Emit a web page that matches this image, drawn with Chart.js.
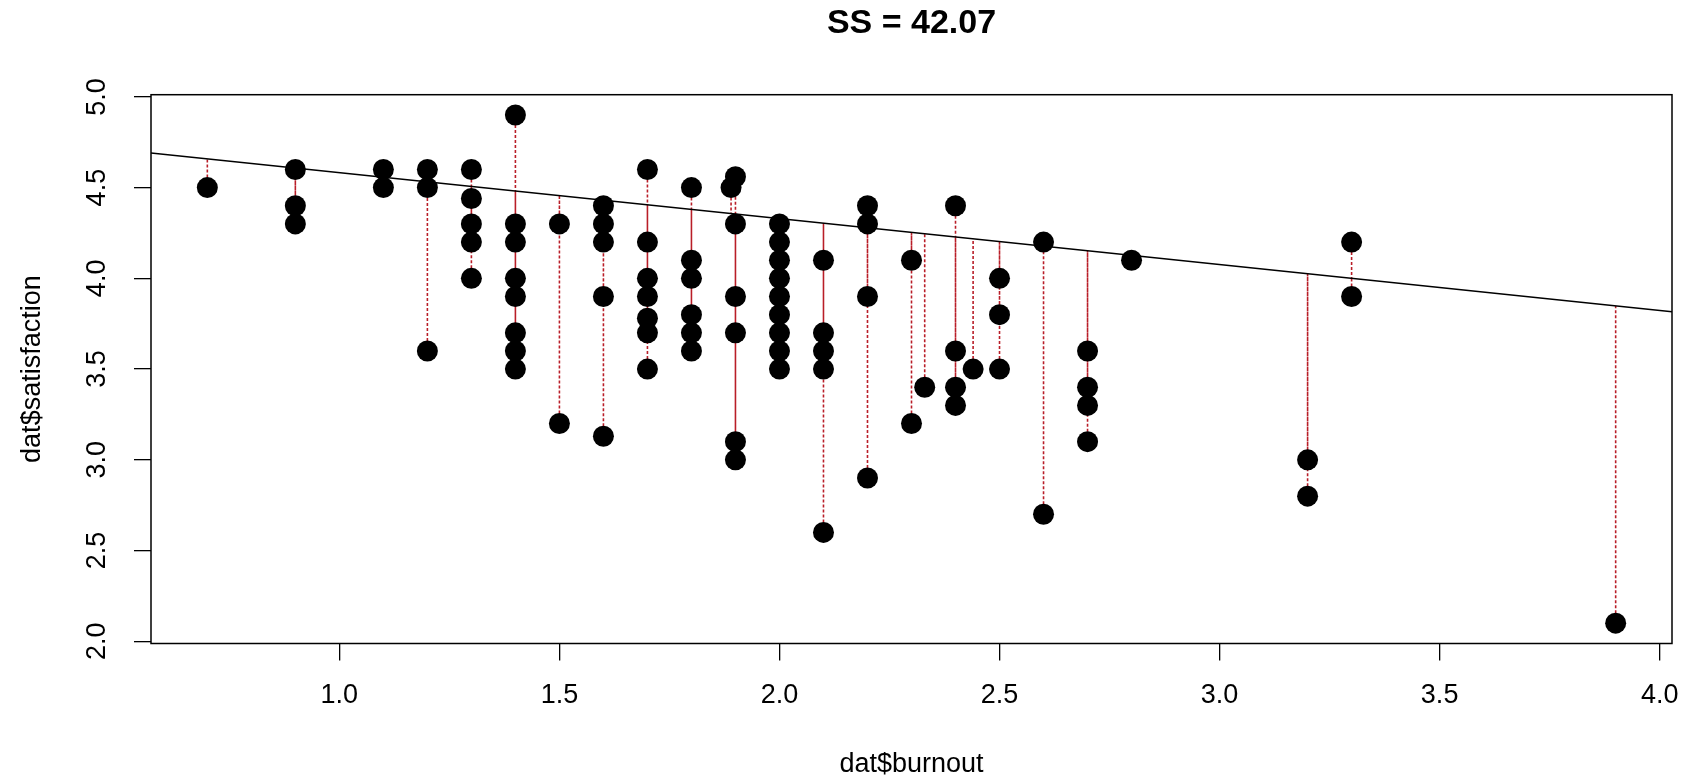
<!DOCTYPE html>
<html>
<head>
<meta charset="utf-8">
<title>SS = 42.07</title>
<script src="https://cdn.jsdelivr.net/npm/chart.js@4/dist/chart.umd.min.js"></script>
<style>
  body { margin: 0; background: #fff; }
</style>
</head>
<body>
<canvas id="canvas" width="1683" height="779"></canvas>
<script>
// 散布図データ (dat$burnout, dat$satisfaction)
var burnout = [
  0.7,
  0.9, 0.9, 0.9,
  1.1, 1.1,
  1.2, 1.2, 1.2,
  1.3, 1.3, 1.3, 1.3, 1.3,
  1.4, 1.4, 1.4, 1.4, 1.4, 1.4, 1.4, 1.4,
  1.5, 1.5,
  1.6, 1.6, 1.6, 1.6, 1.6,
  1.7, 1.7, 1.7, 1.7, 1.7, 1.7, 1.7,
  1.8, 1.8, 1.8, 1.8, 1.8, 1.8,
  1.89,
  1.9, 1.9, 1.9, 1.9, 1.9, 1.9,
  2.0, 2.0, 2.0, 2.0, 2.0, 2.0, 2.0, 2.0, 2.0,
  2.1, 2.1, 2.1, 2.1, 2.1,
  2.2, 2.2, 2.2, 2.2,
  2.3, 2.3,
  2.33,
  2.4, 2.4, 2.4, 2.4,
  2.44,
  2.5, 2.5, 2.5,
  2.6, 2.6,
  2.7, 2.7, 2.7, 2.7,
  2.8,
  3.2, 3.2,
  3.3, 3.3,
  3.9
];
var satisfaction = [
  4.5,
  4.6, 4.4, 4.3,
  4.6, 4.5,
  4.6, 4.5, 3.6,
  4.6, 4.44, 4.3, 4.2, 4.0,
  4.9, 4.3, 4.2, 4.0, 3.9, 3.7, 3.6, 3.5,
  4.3, 3.2,
  4.4, 4.3, 4.2, 3.9, 3.13,
  4.6, 4.2, 4.0, 3.9, 3.78, 3.7, 3.5,
  4.5, 4.1, 4.0, 3.8, 3.7, 3.6,
  4.5,
  4.56, 4.3, 3.9, 3.7, 3.1, 3.0,
  4.3, 4.2, 4.1, 4.0, 3.9, 3.8, 3.7, 3.6, 3.5,
  4.1, 3.7, 3.6, 3.5, 2.6,
  4.4, 4.3, 3.9, 2.9,
  4.1, 3.2,
  3.4,
  4.4, 3.6, 3.4, 3.3,
  3.5,
  4.0, 3.8, 3.5,
  4.2, 2.7,
  3.6, 3.4, 3.3, 3.1,
  4.1,
  3.0, 2.8,
  4.2, 3.9,
  2.1
];

// 図に描かれた直線（切片・傾き）
var lineIntercept = 4.835;
var lineSlope = -0.253;

// 目盛り
var xTicks = [1.0, 1.5, 2.0, 2.5, 3.0, 3.5, 4.0];
var yTicks = [2.0, 2.5, 3.0, 3.5, 4.0, 4.5, 5.0];

var titleText = 'SS = 42.07';
var xLabel = 'dat$burnout';
var yLabel = 'dat$satisfaction';

// R と同じく範囲の 4% を両側に足す
function rRange(arr) {
  var lo = Math.min.apply(null, arr), hi = Math.max.apply(null, arr);
  var d = (hi - lo) * 0.04;
  return [lo - d, hi + d];
}
var xr = rRange(burnout);
var yr = rRange(satisfaction);

var points = burnout.map(function(x, i) { return {x: x, y: satisfaction[i]}; });

// 残差（点から直線まで）
var residuals = [];
burnout.forEach(function(x, i) {
  residuals.push({x: x, y: satisfaction[i]});
  residuals.push({x: x, y: lineIntercept + lineSlope * x});
  residuals.push({x: x, y: null});
});

var fitLine = [
  {x: xr[0], y: lineIntercept + lineSlope * xr[0]},
  {x: xr[1], y: lineIntercept + lineSlope * xr[1]}
];

// 枠・タイトル・縦軸ラベル（R風）
var rBox = {
  id: 'rBox',
  afterDraw: function(chart) {
    var ctx = chart.ctx, a = chart.chartArea, ys = chart.scales.y;
    ctx.save();
    ctx.strokeStyle = '#000';
    ctx.lineWidth = 1.5;
    ctx.strokeRect(a.left, a.top, a.right - a.left, a.bottom - a.top);
    ctx.fillStyle = '#000';
    ctx.textAlign = 'center';
    ctx.textBaseline = 'middle';
    // タイトルはプロット領域の中央
    ctx.font = 'bold 34px "Liberation Sans"';
    ctx.fillText(titleText, (a.left + a.right) / 2, 24);
    ctx.font = '27px "Liberation Sans"';
    yTicks.forEach(function(v) {
      var py = ys.getPixelForValue(v);
      ctx.save();
      ctx.translate(98, py);
      ctx.rotate(-Math.PI / 2);
      ctx.fillText(v.toFixed(1), 0, 0);
      ctx.restore();
    });
    ctx.restore();
  }
};

Chart.defaults.font.family = '"Liberation Sans", Arial, sans-serif';
Chart.defaults.color = '#000';

var ctx = document.getElementById('canvas').getContext('2d');
new Chart(ctx, {
  type: 'scatter',
  data: {
    datasets: [
      { // 散布図
        label: 'points',
        data: points,
        pointRadius: 10.5,
        pointHoverRadius: 10.5,
        pointBackgroundColor: '#000',
        pointBorderWidth: 0,
        showLine: false
      },
      { // 回帰直線
        label: 'line',
        data: fitLine,
        showLine: true,
        borderColor: '#000',
        borderWidth: 1.5,
        pointRadius: 0,
        tension: 0
      },
      { // 残差
        label: 'residuals',
        data: residuals,
        showLine: true,
        spanGaps: false,
        borderColor: 'rgb(185, 30, 40)',
        borderWidth: 1.6,
        borderDash: [3, 2],
        pointRadius: 0,
        tension: 0
      }
    ]
  },
  options: {
    responsive: false,
    animation: false,
    layout: { padding: { top: 94.7, left: 0, right: 11, bottom: 0 } },
    plugins: {
      legend: { display: false },
      tooltip: { enabled: false },
      title: { display: false }
    },
    scales: {
      x: {
        type: 'linear',
        min: xr[0],
        max: xr[1],
        afterBuildTicks: function(s) { s.ticks = xTicks.map(function(v) { return {value: v}; }); },
        afterFit: function(s) { s.height = 135.5; s.paddingLeft = 0; s.paddingRight = 0; },
        ticks: {
          font: { size: 27 },
          color: '#000',
          padding: 19,
          maxRotation: 0,
          callback: function(v) { return Number(v).toFixed(1); }
        },
        grid: { drawOnChartArea: false, drawTicks: true, tickLength: 17, color: '#000', lineWidth: 1.3 },
        border: { display: false },
        title: { display: true, text: xLabel, font: { size: 27, lineHeight: 1.05 }, color: '#000', padding: { top: 0, bottom: 0 } }
      },
      y: {
        type: 'linear',
        min: yr[0],
        max: yr[1],
        afterBuildTicks: function(s) { s.ticks = yTicks.map(function(v) { return {value: v}; }); },
        afterFit: function(s) { s.width = 151; s.paddingTop = 0; s.paddingBottom = 0; },
        ticks: { display: false },
        grid: { drawOnChartArea: false, drawTicks: true, tickLength: 17, color: '#000', lineWidth: 1.3 },
        border: { display: false },
        title: { display: true, text: yLabel, font: { size: 27 }, color: '#000', padding: { top: 16, bottom: 0 } }
      }
    }
  },
  plugins: [rBox]
});
</script>
</body>
</html>
